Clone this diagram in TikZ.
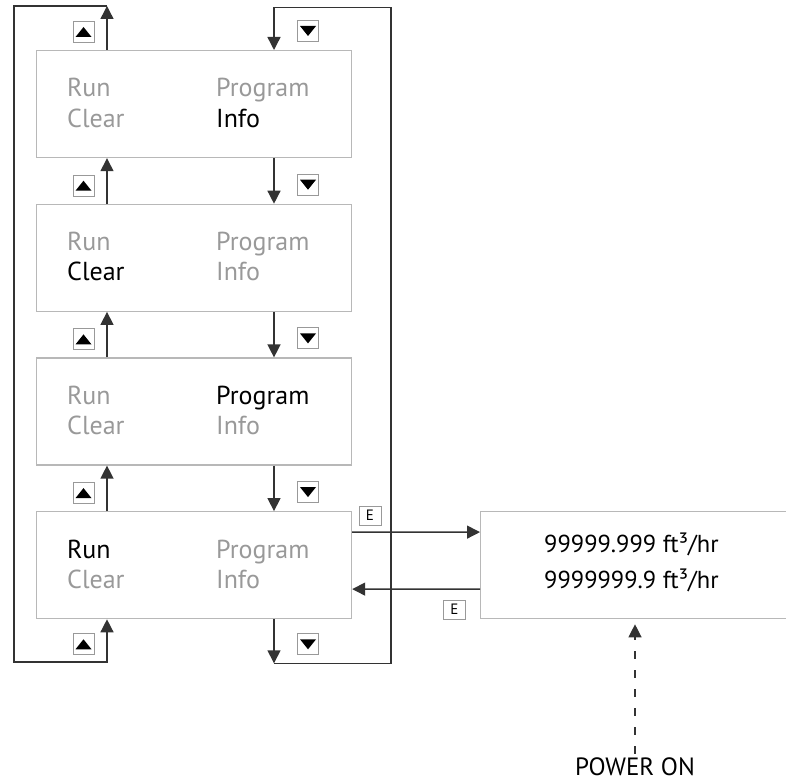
\documentclass[tikz,border=0pt]{standalone}
\usepackage{fontspec}
\setmainfont{PT Sans}
\usepackage{xcolor}
\definecolor{gris60}{gray}{.60}
\definecolor{gris70}{gray}{.72}
\definecolor{gris20}{gray}{.20}
\usetikzlibrary{positioning,arrows.meta,calc}

\begin{document}
\begin{tikzpicture}[
    x=1pt, y=-1pt,
    font=\fontsize{25}{30}\selectfont,
    pantalla/.style={rectangle, draw=gris70, line width=1.2pt, anchor=north west,
      minimum width=315pt, minimum height=107pt, inner sep=0pt},
    opcion/.style={anchor=base west, inner sep=0pt, font=\fontsize{26}{30}\selectfont},
    lectura/.style={anchor=base west, inner sep=0pt, font=\fontsize{24.5}{30}\selectfont},
    tecla/.style={rectangle, draw=gris60, line width=1pt, minimum size=21pt, inner sep=0pt},
    arriba/.style={tecla, path picture={\fill ([shift={(-8pt,-5pt)}]path picture bounding box.center)
      -- ++(16pt,0pt) -- ++(-8pt,10pt) -- cycle;}},
    abajo/.style={tecla, path picture={\fill ([shift={(-8pt,5pt)}]path picture bounding box.center)
      -- ++(16pt,0pt) -- ++(-8pt,-10pt) -- cycle;}},
    teclae/.style={tecla, minimum width=22pt, minimum height=19pt, font=\fontsize{15}{17}\selectfont},
    flecha/.style={draw=gris20, line width=1.4pt, -{Triangle[length=13pt,width=13pt]}},
    punteado/.style={dash pattern=on 8pt off 11pt, line width=1.2pt}
  ]
    \useasboundingbox (0,0) rectangle (786,781);
    \clip (0,0) rectangle (786,781);

    \foreach \n/\colR/\colC/\colP/\colI [count=\k from 0] in
      {m1/gris60/gris60/gris60/black, m2/gris60/black/gris60/gris60,
       m3/gris60/gris60/black/gris60, m4/black/gris60/gris60/gris60} {
      \pgfmathsetmacro\yp{50+153.7*\k}
      \node[pantalla] (\n) at (36,\yp) {};
      \node[opcion, text=\colR] (\n-run) at ($(\n.north west)+(31,47)$) {Run};
      \node[opcion, text=\colP] (\n-prog) at ($(\n.north west)+(180,47)$) {Program};
      \node[opcion, text=\colC] (\n-clear) at ($(\n.north west)+(31,77)$) {Clear};
      \node[opcion, text=\colI] (\n-info) at ($(\n.north west)+(180,77)$) {Info};
      \node[arriba] (\n-up) at ($(\n.north west)+(47.5,-18)$) {};
      \node[abajo] (\n-down) at ($(\n.north west)+(272,-19)$) {};
    }
    \node[arriba] (fin-up) at ($(m4.south west)+(47.5,25)$) {};
    \node[abajo] (fin-down) at ($(m4.south west)+(272,25)$) {};

    \foreach \a/\b in {m1/m2, m2/m3, m3/m4} {
      \draw[flecha] ($(\b.north west)+(71,0)$) -- ($(\a.south west)+(71,0)$);
      \draw[flecha] ($(\a.south west)+(238,0)$) -- ($(\b.north west)+(238,0)$);
    }

    \coordinate (lazo-a) at ($(m1.north west)+(71,-44)$);
    \coordinate (lazo-b) at ($(m4.south west)+(238,44)$);
    \draw[flecha] ($(m1.north west)+(71,0)$) -- (lazo-a);
    \draw[flecha] (lazo-a) -| ++(-93,656) -| ($(m4.south west)+(71,0)$);
    \draw[flecha] ($(m4.south west)+(238,0)$) -- (lazo-b);
    \draw[flecha] (lazo-b) -| ++(117,-656) -| ($(m1.north west)+(238,0)$);

    \node[pantalla, minimum width=340pt] (caudal) at (480,511.1) {};
    \node[lectura] (caudal-1) at ($(caudal.north west)+(64,41)$) {99999.999 ft³/hr};
    \node[lectura] (caudal-2) at ($(caudal.north west)+(64,77)$) {9999999.9 ft³/hr};

    \draw[flecha] ($(m4.north east)+(0,21)$) -- ($(caudal.north west)+(0,21)$);
    \draw[flecha] ($(caudal.north west)+(0,78)$) -- ($(m4.north east)+(0,78)$);
    \node[teclae] (e-ida) at (370,515.5) {E};
    \node[teclae] (e-vuelta) at (454.5,609.5) {E};

    \node[anchor=base] (encendido) at (635,775) {POWER ON};
    \draw[flecha, punteado, shorten >=5pt] (encendido.north) -- (encendido.north |- caudal.south);
  \end{tikzpicture}
\end{document}
